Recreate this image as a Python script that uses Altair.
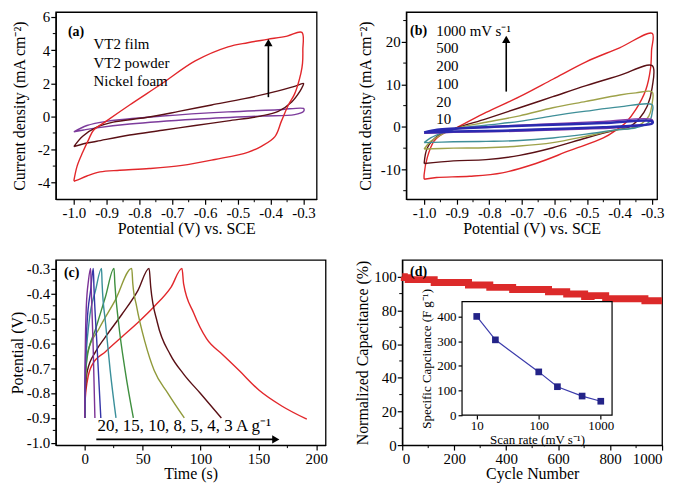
import altair as alt
import pandas as pd

FONT = "Liberation Serif"
MINUS = "\u2212"

# ---------------- Panel (a): CV of VT2 film / powder / Ni foam ----------------
A_SERIES = ["VT2 film", "VT2 powder", "Nickel foam"]
A_COLORS = ["#e2272b", "#5a1015", "#7d3c9c"]
A_FILM_X = [-1.0, -0.99, -0.973, -0.955, -0.94, -0.90, -0.83, -0.73, -0.63, -0.53, -0.47, -0.41, -0.35, -0.305,
            -0.302, -0.303, -0.308, -0.327, -0.346, -0.367, -0.387, -0.427, -0.47, -0.57, -0.67, -0.77, -0.86,
            -0.92, -0.96, -0.99, -1.0]
A_FILM_Y = [-3.9, -3.0, -2.17, -1.4, -0.84, -0.27, 0.69, 2.0, 3.35, 4.2, 4.45, 4.65, 4.85, 5.07,
            4.0, 3.2, 2.6, 1.36, 0.69, -0.27, -1.22, -1.79, -2.17, -2.6, -2.96, -3.15, -3.25,
            -3.35, -3.6, -3.85, -3.92]
A_POWDER_X = [-1.0, -0.973, -0.93, -0.88, -0.78, -0.68, -0.58, -0.48, -0.377, -0.33, -0.30, -0.303, -0.31,
              -0.336, -0.377, -0.43, -0.53, -0.63, -0.73, -0.83, -0.93, -0.97, -1.0]
A_POWDER_Y = [-1.83, -1.2, -0.65, -0.35, -0.07, 0.3, 0.69, 1.07, 1.54, 1.8, 1.98, 1.8, 1.54,
              0.87, 0.3, 0.02, -0.27, -0.55, -0.84, -1.12, -1.5, -1.65, -1.83]
A_NI_X = [-1.0, -0.96, -0.90, -0.73, -0.53, -0.377, -0.30, -0.298, -0.30, -0.327, -0.43, -0.63, -0.83, -0.93,
          -0.97, -1.0]
A_NI_Y = [-0.93, -0.55, -0.30, 0.02, 0.27, 0.40, 0.48, 0.40, 0.30, 0.11, 0.02, -0.17, -0.46, -0.69,
          -0.82, -0.93]
A_LABEL_X = [-0.94, -0.94, -0.94]
A_LABEL_Y = [4.34, 3.2, 2.11]
A_ARROW = {"x": [-0.407], "y0": [1.16], "y1": [4.3], "head": [4.45]}

# ---------------- Panel (b): CV at different scan rates ----------------
B_SERIES = ["1000", "500", "200", "100", "20", "10"]
B_COLORS = ["#e2272b", "#5a1015", "#9ea24a", "#3f8f98", "#8a3fa8", "#2a2ab0"]
B_1000_X = [-1.0, -1.0, -0.99, -0.97, -0.94, -0.906, -0.81, -0.707, -0.605, -0.503, -0.40, -0.30, -0.302, -0.305,
            -0.32, -0.35, -0.38, -0.41, -0.45, -0.554, -0.657, -0.76, -0.86, -0.962, -1.0]
B_1000_Y = [-12.3, -11.2, -7.1, -3.4, -1.5, -0.4, 3.4, 7.1, 11.2, 15.3, 18.6, 22.0, 18.0, 13.8,
            8.6, 4.1, 1.1, -0.7, -2.6, -5.6, -8.6, -10.8, -11.6, -11.9, -12.3]
B_500_X = [-1.0, -0.99, -0.96, -0.906, -0.81, -0.707, -0.605, -0.503, -0.40, -0.30, -0.30, -0.315, -0.34, -0.37,
           -0.41, -0.503, -0.605, -0.707, -0.81, -0.91, -1.0]
B_500_Y = [-8.6, -4.9, -2.2, -0.4, 1.9, 4.5, 7.1, 9.7, 12.1, 14.4, 9.3, 4.9, 1.9, 0.0,
           -0.7, -2.6, -4.9, -6.7, -7.7, -8.0, -8.6]
B_200_X = [-1.0, -0.98, -0.94, -0.906, -0.81, -0.707, -0.605, -0.503, -0.40, -0.35, -0.30, -0.30, -0.31, -0.34,
           -0.37, -0.41, -0.503, -0.605, -0.707, -0.81, -0.91, -1.0]
B_200_Y = [-5.2, -3.4, -1.5, -0.4, 1.1, 2.6, 4.5, 6.0, 7.5, 8.0, 8.2, 5.6, 2.6, 0.4,
           -0.4, -0.7, -2.2, -3.7, -4.5, -4.9, -5.0, -5.2]
B_100_X = [-1.0, -0.98, -0.94, -0.906, -0.81, -0.707, -0.605, -0.503, -0.40, -0.30, -0.30, -0.31, -0.35, -0.41,
           -0.503, -0.605, -0.707, -0.81, -0.91, -1.0]
B_100_Y = [-3.7, -2.6, -1.3, -0.5, 0.4, 1.3, 2.6, 3.7, 4.7, 5.2, 3.4, 1.1, -0.2, -0.7,
           -1.7, -2.6, -3.2, -3.4, -3.5, -3.7]
B_20_X = [-1.0, -0.96, -0.906, -0.76, -0.605, -0.45, -0.30, -0.30, -0.35, -0.41, -0.605, -0.76, -0.91, -1.0]
B_20_Y = [-1.5, -0.75, -0.4, 0.2, 0.75, 1.3, 1.7, 1.0, 0.3, -0.2, -0.75, -1.1, -1.3, -1.5]
B_10_X = [-1.0, -0.96, -0.906, -0.76, -0.605, -0.45, -0.30, -0.30, -0.35, -0.45, -0.605, -0.76, -0.91, -1.0]
B_10_Y = [-1.3, -0.7, -0.4, 0.1, 0.5, 0.9, 1.3, 0.8, 0.3, -0.1, -0.5, -0.9, -1.1, -1.3]
B_LABELS = ["1000 mV s\u207b\u00b9", "500", "200", "100", "20", "10"]
B_LABEL_X = [-0.963, -0.963, -0.963, -0.963, -0.963, -0.963]
B_LABEL_Y = [22.6, 18.5, 14.3, 10.1, 5.9, 1.9]
B_ARROW = {"x": [-0.748], "y0": [8.3], "y1": [20.0], "head": [20.6]}

# ---------------- Panel (c): galvanostatic charge/discharge ----------------
C_SERIES = ["20", "15", "10", "8", "5", "4", "3"]
C_COLORS = ["#7b3296", "#3535a8", "#3a8f9a", "#3f8f3f", "#909a3a", "#5a1015", "#e2272b"]
C_20_T = [0, 0.4, 1.4, 3.2, 5.1, 5.6, 7.2, 8.8]
C_20_V = [-0.9, -0.65, -0.45, -0.35, -0.3, -0.38, -0.6, -0.9]
C_15_T = [0, 0.5, 2.0, 5.1, 7.4, 8.0, 10.5, 13.9]
C_15_V = [-0.9, -0.7, -0.52, -0.387, -0.3, -0.38, -0.6, -0.9]
C_10_T = [0, 0.5, 3.7, 9.4, 14.5, 15.0, 17.9, 22.0, 27.0]
C_10_V = [-0.9, -0.72, -0.517, -0.387, -0.3, -0.36, -0.517, -0.71, -0.9]
C_8_T = [0, 0.5, 2.0, 9.4, 17.9, 25.3, 26.0, 29.2, 34.9, 42.0]
C_8_V = [-0.9, -0.76, -0.66, -0.543, -0.414, -0.3, -0.36, -0.517, -0.71, -0.9]
C_5_T = [0, 0.5, 2.3, 12.2, 26.4, 40.6, 41.5, 44.8, 52.0, 60.0, 71.7, 86.0]
C_5_V = [-0.9, -0.78, -0.64, -0.543, -0.427, -0.3, -0.36, -0.452, -0.595, -0.71, -0.80, -0.9]
C_4_T = [0, 0.5, 2.3, 9.4, 17.9, 32.0, 46.0, 55.6, 57.0, 62.7, 74.0, 85.4, 99.6, 118.0]
C_4_V = [-0.9, -0.8, -0.71, -0.634, -0.575, -0.485, -0.388, -0.3, -0.375, -0.517, -0.647, -0.724, -0.80, -0.9]
C_3_T = [0, 0.5, 2.3, 6.5, 17.9, 32.0, 46.0, 60.0, 74.6, 84.0, 85.4, 94.0, 105.2, 119.4, 133.6, 150.6, 170.5,
         191.8]
C_3_V = [-0.9, -0.82, -0.75, -0.686, -0.634, -0.575, -0.517, -0.453, -0.375, -0.3, -0.362, -0.478, -0.582,
         -0.647, -0.711, -0.789, -0.853, -0.905]
C_NOTE = "20, 15, 10, 8, 5, 4, 3 A g\u207b\u00b9"
C_ARROW = {"t0": [10.0], "t1": [163.0], "v": [-0.986], "head": [165.0]}

# ---------------- Panel (d): cycling stability + inset ----------------
D_CYCLE = [0, 8, 23, 123, 255, 337, 425, 563, 633, 702, 727, 783, 934, 1000]
D_CAP = [100, 99.5, 98.3, 96.6, 95.1, 93.7, 92.5, 91.1, 89.8, 88.3, 88.8, 87.0, 85.7, 85.7]
INSET_RATE = [10, 20, 100, 200, 500, 1000]
INSET_CAP = [400, 305, 175, 115, 77, 56]

# ---------------- layout sizes ----------------
W_A, W_B, W_C, W_D = 262, 252, 271, 261
H_TOP, H_BOT = 188, 186


def loops(names, xs_list, ys_list):
    rows = []
    for n, xs, ys in zip(names, xs_list, ys_list):
        for i, (x, y) in enumerate(zip(xs, ys)):
            rows.append({"x": x, "y": y, "s": n, "o": i})
    return pd.DataFrame(rows)


def lab_expr(fmt=None):
    if fmt:
        return "replace(format(datum.value, '%s'), '%s', '-')" % (fmt, MINUS)
    return "replace(datum.label, '%s', '-')" % MINUS


def x_minor(vals, scale, axis, h):
    return alt.Chart(pd.DataFrame({"v": vals})).mark_rule(color="black", strokeWidth=1).encode(
        x=alt.X("v:Q", scale=scale, axis=axis), y=alt.value(h), y2=alt.value(h + 3))


def y_minor(vals, scale, axis):
    return alt.Chart(pd.DataFrame({"v": vals})).mark_rule(color="black", strokeWidth=1).encode(
        y=alt.Y("v:Q", scale=scale, axis=axis), x=alt.value(0), x2=alt.value(-3))


def texts(df, scx, scy, axx, axy, **kw):
    return alt.Chart(df).mark_text(font=FONT, color="black", **kw).encode(
        x=alt.X("x:Q", scale=scx, axis=axx), y=alt.Y("y:Q", scale=scy, axis=axy), text="t:N")


def series_lines(df, names, colors, scx, scy, axx, axy, interp, sw=1.4):
    layers = []
    for n, c in zip(names, colors):
        sub = df[df["s"] == n]
        layers.append(alt.Chart(sub).mark_line(strokeWidth=sw, color=c, interpolate=interp).encode(
            x=alt.X("x:Q", scale=scx, axis=axx), y=alt.Y("y:Q", scale=scy, axis=axy), order="o:Q"))
    return layers


CV_TICKS = [-1.0, -0.9, -0.8, -0.7, -0.6, -0.5, -0.4, -0.3]
CV_MINOR = [-0.95, -0.85, -0.75, -0.65, -0.55, -0.45, -0.35]

# ---------- (a) ----------
ax_ax = alt.Axis(title="Potential (V) vs. SCE", values=CV_TICKS, labelExpr=lab_expr(".1f"))
ax_ay = alt.Axis(title="Current density (mA cm\u207b\u00b2)", values=[-4, -2, 0, 2, 4, 6], labelExpr=lab_expr(),
                 titlePadding=10)
sc_ax = alt.Scale(domain=[-1.055, -0.26], nice=False, zero=False)
sc_ay = alt.Scale(domain=[-5, 6.3], nice=False, zero=False)
a_df = loops(A_SERIES, [A_FILM_X, A_POWDER_X, A_NI_X], [A_FILM_Y, A_POWDER_Y, A_NI_Y])
a_lines = series_lines(a_df, A_SERIES[::-1], A_COLORS[::-1], sc_ax, sc_ay, ax_ax, ax_ay, "catmull-rom")
a_leg = texts(pd.DataFrame({"x": A_LABEL_X, "y": A_LABEL_Y, "t": A_SERIES}), sc_ax, sc_ay, ax_ax, ax_ay,
              align="left", baseline="middle", fontSize=15)
a_tag = texts(pd.DataFrame({"x": [-1.018], "y": [5.09], "t": ["(a)"]}), sc_ax, sc_ay, ax_ax, ax_ay,
              align="left", baseline="middle", fontSize=14, fontWeight="bold")
a_arr_df = pd.DataFrame(A_ARROW)
a_shaft = alt.Chart(a_arr_df).mark_rule(color="black", strokeWidth=1.6).encode(
    x=alt.X("x:Q", scale=sc_ax, axis=ax_ax), y=alt.Y("y0:Q", scale=sc_ay, axis=ax_ay), y2="y1:Q")
a_head = alt.Chart(a_arr_df).mark_point(shape="triangle-up", filled=True, color="black", size=70, opacity=1).encode(
    x=alt.X("x:Q", scale=sc_ax, axis=ax_ax), y=alt.Y("head:Q", scale=sc_ay, axis=ax_ay))
panel_a = alt.layer(
    *a_lines, a_leg, a_tag, a_shaft, a_head,
    x_minor(CV_MINOR, sc_ax, ax_ax, H_TOP), y_minor([-3, -1, 1, 3, 5], sc_ay, ax_ay)
).properties(width=W_A, height=H_TOP)

# ---------- (b) ----------
bx_ax = alt.Axis(title="Potential (V) vs. SCE", values=CV_TICKS, labelExpr=lab_expr(".1f"))
bx_ay = alt.Axis(title="Current density (mA cm\u207b\u00b2)", values=[-10, 0, 10, 20], labelExpr=lab_expr(),
                 titlePadding=7)
sc_bx = alt.Scale(domain=[-1.055, -0.285], nice=False, zero=False)
sc_by = alt.Scale(domain=[-17, 27], nice=False, zero=False)
b_df = loops(B_SERIES, [B_1000_X, B_500_X, B_200_X, B_100_X, B_20_X, B_10_X],
             [B_1000_Y, B_500_Y, B_200_Y, B_100_Y, B_20_Y, B_10_Y])
b_lines = series_lines(b_df, B_SERIES[:5], B_COLORS[:5], sc_bx, sc_by, bx_ax, bx_ay, "catmull-rom")
b_lines += series_lines(b_df, B_SERIES[5:], B_COLORS[5:], sc_bx, sc_by, bx_ax, bx_ay, "catmull-rom", sw=2.6)
b_leg = texts(pd.DataFrame({"x": B_LABEL_X, "y": B_LABEL_Y, "t": B_LABELS}), sc_bx, sc_by, bx_ax, bx_ay,
              align="left", baseline="middle", fontSize=15)
b_tag = texts(pd.DataFrame({"x": [-1.043], "y": [22.6], "t": ["(b)"]}), sc_bx, sc_by, bx_ax, bx_ay,
              align="left", baseline="middle", fontSize=14, fontWeight="bold")
b_arr_df = pd.DataFrame(B_ARROW)
b_shaft = alt.Chart(b_arr_df).mark_rule(color="black", strokeWidth=1.6).encode(
    x=alt.X("x:Q", scale=sc_bx, axis=bx_ax), y=alt.Y("y0:Q", scale=sc_by, axis=bx_ay), y2="y1:Q")
b_head = alt.Chart(b_arr_df).mark_point(shape="triangle-up", filled=True, color="black", size=70, opacity=1).encode(
    x=alt.X("x:Q", scale=sc_bx, axis=bx_ax), y=alt.Y("head:Q", scale=sc_by, axis=bx_ay))
panel_b = alt.layer(
    *b_lines, b_leg, b_tag, b_shaft, b_head,
    x_minor(CV_MINOR, sc_bx, bx_ax, H_TOP), y_minor([-15, -5, 5, 15, 25], sc_by, bx_ay)
).properties(width=W_B, height=H_TOP)

# ---------- (c) ----------
cx_ax = alt.Axis(title="Time (s)", values=[0, 50, 100, 150, 200], labelExpr=lab_expr())
cx_ay = alt.Axis(title="Potential (V)", values=[-1.0, -0.9, -0.8, -0.7, -0.6, -0.5, -0.4, -0.3],
                 labelExpr=lab_expr(".1f"), titlePadding=1)
sc_cx = alt.Scale(domain=[-25, 208], nice=False, zero=False)
sc_cy = alt.Scale(domain=[-1.009, -0.266], nice=False, zero=False)
c_df = loops(C_SERIES, [C_20_T, C_15_T, C_10_T, C_8_T, C_5_T, C_4_T, C_3_T],
             [C_20_V, C_15_V, C_10_V, C_8_V, C_5_V, C_4_V, C_3_V])
c_lines = series_lines(c_df, C_SERIES[::-1], C_COLORS[::-1], sc_cx, sc_cy, cx_ax, cx_ay, "monotone")
c_note = texts(pd.DataFrame({"x": [11.0], "y": [-0.932], "t": [C_NOTE]}), sc_cx, sc_cy, cx_ax, cx_ay,
               align="left", baseline="middle", fontSize=17)
c_tag = texts(pd.DataFrame({"x": [-18.0], "y": [-0.317], "t": ["(c)"]}), sc_cx, sc_cy, cx_ax, cx_ay,
              align="left", baseline="middle", fontSize=14, fontWeight="bold")
c_arr_df = pd.DataFrame(C_ARROW)
c_shaft = alt.Chart(c_arr_df).mark_rule(color="black", strokeWidth=1.6).encode(
    x=alt.X("t0:Q", scale=sc_cx, axis=cx_ax), x2="t1:Q", y=alt.Y("v:Q", scale=sc_cy, axis=cx_ay))
c_head = alt.Chart(c_arr_df).mark_point(shape="triangle-right", filled=True, color="black", size=70, opacity=1).encode(
    x=alt.X("head:Q", scale=sc_cx, axis=cx_ax), y=alt.Y("v:Q", scale=sc_cy, axis=cx_ay))
panel_c = alt.layer(
    *c_lines, c_note, c_tag, c_shaft, c_head,
    x_minor([25, 75, 125, 175], sc_cx, cx_ax, H_BOT),
    y_minor([-0.95, -0.85, -0.75, -0.65, -0.55, -0.45, -0.35], sc_cy, cx_ay)
).properties(width=W_C, height=H_BOT)

# ---------- (d) ----------
dx_ax = alt.Axis(title="Cycle Number", values=[0, 200, 400, 600, 800, 1000], format="d")
dx_ay = alt.Axis(title="Normalized Capacitance (%)", values=[0, 20, 40, 60, 80, 100], titlePadding=3)
sc_dx = alt.Scale(domain=[0, 1000], nice=False, zero=False)
sc_dy = alt.Scale(domain=[0, 110], nice=False, zero=False)
d_band = alt.Chart(pd.DataFrame({"x": D_CYCLE, "y": D_CAP})).mark_line(
    color="#dc2a2a", strokeWidth=7, interpolate="step-after").encode(
    x=alt.X("x:Q", scale=sc_dx, axis=dx_ax), y=alt.Y("y:Q", scale=sc_dy, axis=dx_ay))
d_tag = texts(pd.DataFrame({"x": [30], "y": [103], "t": ["(d)"]}), sc_dx, sc_dy, dx_ax, dx_ay,
              align="left", baseline="middle", fontSize=14, fontWeight="bold")
d_main = alt.layer(d_band, d_tag,
                   x_minor([100, 300, 500, 700, 900], sc_dx, dx_ax, H_BOT),
                   y_minor([10, 30, 50, 70, 90], sc_dy, dx_ay))

IN_X0, IN_X1 = 61 * W_D / 265, 214 * W_D / 265
IN_YB, IN_YT = 160 * H_BOT / 191, 43 * H_BOT / 191
sc_ix = alt.Scale(type="log", domain=[5.8, 1520], range=[IN_X0, IN_X1], nice=False)
sc_iy = alt.Scale(domain=[0, 460], range=[IN_YB, IN_YT], nice=False, zero=False)
ix_ax = alt.Axis(orient="bottom", offset=-(H_BOT - IN_YB), values=[10, 100, 1000], format="d",
                 title="Scan rate (mV s\u207b\u00b9)", labelFontSize=13, titleFontSize=13, tickSize=4,
                 labelPadding=1, titlePadding=1, domain=False)
iy_ax = alt.Axis(orient="left", offset=-IN_X0, values=[0, 100, 200, 300, 400],
                 title="Specific Capcitance (F g\u207b\u00b9)", labelFontSize=13, titleFontSize=13, tickSize=4,
                 labelPadding=2, titlePadding=3, domain=False)
frame = alt.Chart(pd.DataFrame({"x1": [5.8], "x2": [1520], "y1": [0], "y2": [460]})).mark_rect(
    fill="white", stroke="black", strokeWidth=1.2).encode(
    x=alt.X("x1:Q", scale=sc_ix, axis=ix_ax), x2="x2:Q", y=alt.Y("y1:Q", scale=sc_iy, axis=iy_ax), y2="y2:Q")
in_df = pd.DataFrame({"x": INSET_RATE, "y": INSET_CAP})
in_line = alt.Chart(in_df).mark_line(color="#3b3bab", strokeWidth=1.2).encode(
    x=alt.X("x:Q", scale=sc_ix, axis=ix_ax), y=alt.Y("y:Q", scale=sc_iy, axis=iy_ax))
in_pts = alt.Chart(in_df).mark_point(shape="square", filled=True, color="#232388", size=45, opacity=1).encode(
    x=alt.X("x:Q", scale=sc_ix, axis=ix_ax), y=alt.Y("y:Q", scale=sc_iy, axis=iy_ax))
inset = alt.layer(frame, in_line, in_pts)

panel_d = alt.layer(d_main, inset).resolve_scale(x="independent", y="independent").properties(
    width=W_D, height=H_BOT)

row1 = alt.hconcat(panel_a, panel_b, spacing=39)
row2 = alt.hconcat(panel_c, panel_d, spacing=25)
chart = alt.vconcat(row1, row2, spacing=22).properties(
    padding={"left": 0, "top": 0, "right": 0, "bottom": 0}
).configure_view(stroke="black", strokeWidth=1.3).configure_axis(
    grid=False, domainColor="black", domainWidth=1.3, tickColor="black", tickWidth=1.2, tickSize=5,
    labelColor="black", titleColor="black", labelFont=FONT, titleFont=FONT, labelFontSize=15,
    titleFontSize=16, titleFontWeight="normal", labelPadding=1, titlePadding=0
)

chart.save("out.html", embed_options={"renderer": "svg", "actions": False})
